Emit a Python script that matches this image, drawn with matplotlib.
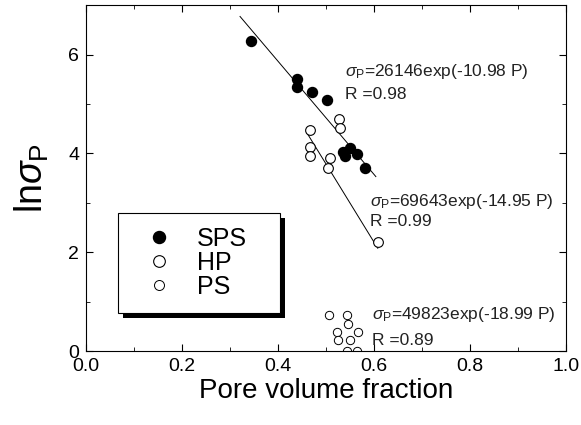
import matplotlib
matplotlib.use("Agg")
import matplotlib.pyplot as plt
from matplotlib.patches import Rectangle

plt.rcParams["font.family"] = ["Liberation Sans", "DejaVu Sans"]
plt.rcParams["mathtext.fontset"] = "custom"
plt.rcParams["mathtext.rm"] = "Liberation Sans"
plt.rcParams["mathtext.it"] = "Liberation Sans:italic"

# datos (fraccion de poros, ln sigma_P)
sps_x = [0.344, 0.440, 0.440, 0.470, 0.502, 0.535, 0.550, 0.565, 0.540, 0.582]
sps_y = [6.27, 5.50, 5.34, 5.25, 5.07, 4.02, 4.10, 3.98, 3.94, 3.71]
hp_x = [0.467, 0.467, 0.467, 0.508, 0.504, 0.527, 0.529, 0.609]
hp_y = [4.48, 4.12, 3.94, 3.91, 3.71, 4.69, 4.52, 2.21]
ps_x = [0.506, 0.544, 0.546, 0.523, 0.567, 0.525, 0.550, 0.544, 0.565]
ps_y = [0.73, 0.73, 0.55, 0.39, 0.39, 0.22, 0.22, 0.00, 0.00]

# extremos de las rectas de ajuste
fit_sps_x = [0.321, 0.604]
fit_sps_y = [6.77, 3.53]
fit_hp_x = [0.460, 0.608]
fit_hp_y = [4.42, 2.08]

fig = plt.figure(figsize=(5.81, 4.25), dpi=100)
ax = fig.add_axes([0.148, 0.174, 0.826, 0.814])

ax.plot(fit_sps_x, fit_sps_y, color="k", lw=0.7)
ax.plot(fit_hp_x, fit_hp_y, color="k", lw=0.7)
ax.plot(sps_x, sps_y, "o", ms=7.2, mfc="k", mec="k", label="SPS", clip_on=False)
ax.plot(hp_x, hp_y, "o", ms=7.0, mfc="white", mec="k", mew=0.8, label="HP")
ax.plot(ps_x, ps_y, "o", ms=6.0, mfc="white", mec="k", mew=0.7, label="PS")

txt = dict(fontsize=12.5, color="#222222", va="center")
ax.text(0.540, 5.66, r"$\sigma_{\rm P}$=26146exp(-10.98 P)", **txt)
ax.text(0.540, 5.19, "R =0.98", **txt)
ax.text(0.591, 3.02, r"$\sigma_{\rm P}$=69643exp(-14.95 P)", **txt)
ax.text(0.591, 2.62, "R =0.99", **txt)
ax.text(0.595, 0.73, r"$\sigma_{\rm P}$=49823exp(-18.99 P)", **txt)
ax.text(0.595, 0.22, "R =0.89", **txt)

ax.set_xlim(0.0, 1.0)
ax.set_ylim(0, 7)
ax.set_xticks([0.0, 0.2, 0.4, 0.6, 0.8, 1.0])
ax.set_xticks([0.1, 0.3, 0.5, 0.7, 0.9], minor=True)
ax.set_yticks([0, 2, 4, 6])
ax.set_yticks([1, 3, 5], minor=True)
ax.tick_params(which="both", direction="in", top=True, right=True, labelsize=14, pad=5)
ax.tick_params(which="major", length=5)
ax.tick_params(which="minor", length=3)
ax.set_xlabel("Pore volume fraction", fontsize=20, labelpad=2)
ax.set_ylabel(r"ln$\sigma_{\rm P}$", fontsize=27, labelpad=12)

leg = ax.legend(loc="upper left", bbox_to_anchor=(0.067, 0.399), fontsize=18,
                frameon=False, handlelength=2.2, handletextpad=0.4, labelspacing=0.0,
                borderpad=0.55, borderaxespad=0, markerscale=1.2)
leg.set_zorder(10)

# recuadro de la leyenda (mas ancho a la derecha) con sombra negra
fig.canvas.draw()
bb = leg.get_window_extent().transformed(fig.transFigure.inverted())
ancho = bb.width + 19 / 581
dx, dy = 5 / 581, 5 / 425
sombra = Rectangle((bb.x0 + dx, bb.y0 - dy), ancho, bb.height, transform=fig.transFigure,
                   facecolor="k", edgecolor="none", zorder=8, clip_on=False)
marco = Rectangle((bb.x0, bb.y0), ancho, bb.height, transform=fig.transFigure,
                  facecolor="white", edgecolor="k", lw=0.8, zorder=9, clip_on=False)
ax.add_patch(sombra)
ax.add_patch(marco)

fig.savefig("out.png", dpi=100)
